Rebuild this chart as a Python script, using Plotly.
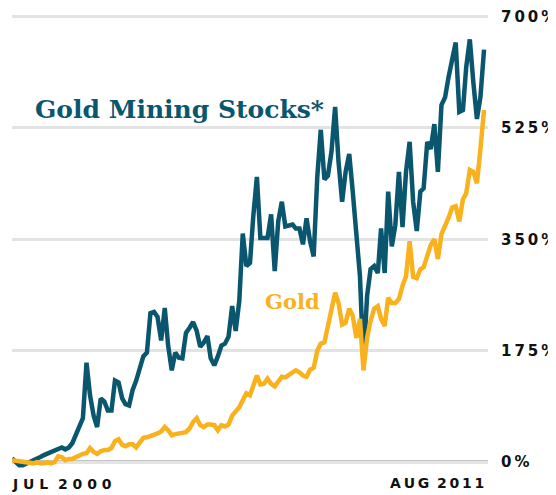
import plotly.graph_objects as go
import pandas as pd

# Monthly dates, Jul 2000 .. Aug 2011
dates = pd.date_range("2000-07-01", "2011-08-01", freq="MS")

# Cumulative % return, Gold Mining Stocks*
mining_stocks = [
    6, 0, -5, -5, -3, 0, 3, 5, 8, 11,
    13, 16, 17, 20, 23, 20, 23, 30, 45, 58,
    69, 156, 105, 73, 55, 100, 95, 81, 81, 128,
    125, 100, 91, 89, 113, 128, 147, 166, 172, 234,
    236, 228, 191, 242, 183, 144, 172, 164, 163, 203,
    211, 220, 206, 181, 188, 198, 163, 152, 166, 183,
    186, 197, 245, 206, 253, 359, 308, 313, 386, 448,
    352, 352, 352, 389, 300, 378, 409, 370, 372, 373,
    367, 367, 342, 383, 347, 323, 448, 522, 444, 450,
    488, 558, 472, 409, 456, 484, 425, 355, 292, 155,
    261, 303, 308, 297, 367, 297, 425, 339, 372, 456,
    369, 456, 503, 409, 363, 425, 430, 503, 492, 531,
    456, 561, 573, 605, 633, 659, 550, 553, 620, 664,
    597, 539, 573, 648,
]

# Cumulative % return, Gold
gold = [
    3, 2, 2, 0, 0, -2, -2, 0, -2, -2,
    0, -2, 0, 9, 8, 3, 5, 5, 8, 11,
    13, 14, 22, 16, 13, 17, 19, 19, 22, 33,
    36, 27, 25, 28, 28, 23, 31, 38, 39, 41,
    42, 45, 48, 55, 50, 42, 44, 45, 45, 47,
    53, 63, 69, 58, 55, 59, 59, 58, 50, 58,
    56, 59, 73, 80, 86, 97, 108, 105, 120, 136,
    122, 123, 131, 123, 119, 128, 134, 133, 138, 141,
    144, 141, 136, 134, 145, 148, 175, 186, 188, 216,
    245, 266, 250, 216, 219, 241, 230, 195, 225, 144,
    195, 222, 241, 245, 225, 214, 258, 250, 250, 256,
    277, 292, 347, 291, 289, 303, 306, 325, 341, 350,
    319, 358, 370, 384, 400, 402, 378, 413, 422, 459,
    456, 438, 492, 553,
]

T = "\u2009"  # thin space used as letter spacing
y_ticks = [0, 175, 350, 525, 700]
y_tick_labels = ["0" + T + "%", T.join("175%"), T.join("350%"), T.join("525%"), T.join("700%")]
x_labels = ["J U L  2 0 0 0", T.join("AUG") + " " + T + T.join("2011")]

TEAL = "#0a566e"
GOLD = "#f9b11d"
LABEL_FONT = dict(family="DejaVu Sans", size=14, color="#111111", weight="bold")
TICK_FONT = dict(family="DejaVu Sans", size=15, color="#111111", weight="bold")

fig = go.Figure()
fig.add_trace(go.Scatter(
    x=dates, y=mining_stocks, mode="lines", name="Gold Mining Stocks*",
    line=dict(color=TEAL, width=4.5), cliponaxis=False,
))
fig.add_trace(go.Scatter(
    x=dates, y=gold, mode="lines", name="Gold",
    line=dict(color=GOLD, width=4.5), cliponaxis=False,
))

# zero baseline
fig.add_shape(type="line", xref="paper", yref="y", x0=0, x1=1, y0=0, y1=0,
              line=dict(color="#111111", width=2.5), layer="below")

# page body has an 8px margin, so the figure is sized/offset to compensate
fig.update_layout(
    width=548, height=487,
    margin=dict(l=4, r=66, t=0, b=20),
    paper_bgcolor="white", plot_bgcolor="white",
    showlegend=False,
    xaxis=dict(
        range=["2000-07-01", "2011-09-04"],
        showgrid=False, zeroline=False, showticklabels=False, showline=False,
    ),
    yaxis=dict(
        range=[-20.3, 708.6], side="right",
        tickvals=y_ticks, ticktext=y_tick_labels,
        tickfont=TICK_FONT, ticklabeloverflow="allow",
        ticks="", ticklabelstandoff=12,
        showgrid=True, gridcolor="#e3e3e3", gridwidth=2.5,
        zeroline=False, showline=False,
    ),
    annotations=[
        dict(x=dates[0], y=0, xref="x", yref="y", yshift=-22, text=x_labels[0],
             showarrow=False, xanchor="left", yanchor="middle", xshift=-2,
             font=LABEL_FONT),
        dict(x=dates[-1], y=0, xref="x", yref="y", yshift=-21, text=x_labels[1],
             showarrow=False, xanchor="right", yanchor="middle", xshift=2,
             font=LABEL_FONT),
        dict(x=dates[2], y=554, xref="x", yref="y", text="Gold Mining Stocks*",
             showarrow=False, xanchor="left", yanchor="middle", xshift=14,
             font=dict(family="DejaVu Serif", size=25, color=TEAL, weight="bold")),
        dict(x=dates[69], y=252, xref="x", yref="y", text="Gold",
             showarrow=False, xanchor="left", yanchor="middle", xshift=6,
             font=dict(family="DejaVu Serif", size=21, color=GOLD, weight="bold")),
    ],
)

fig.write_html("out.html")
